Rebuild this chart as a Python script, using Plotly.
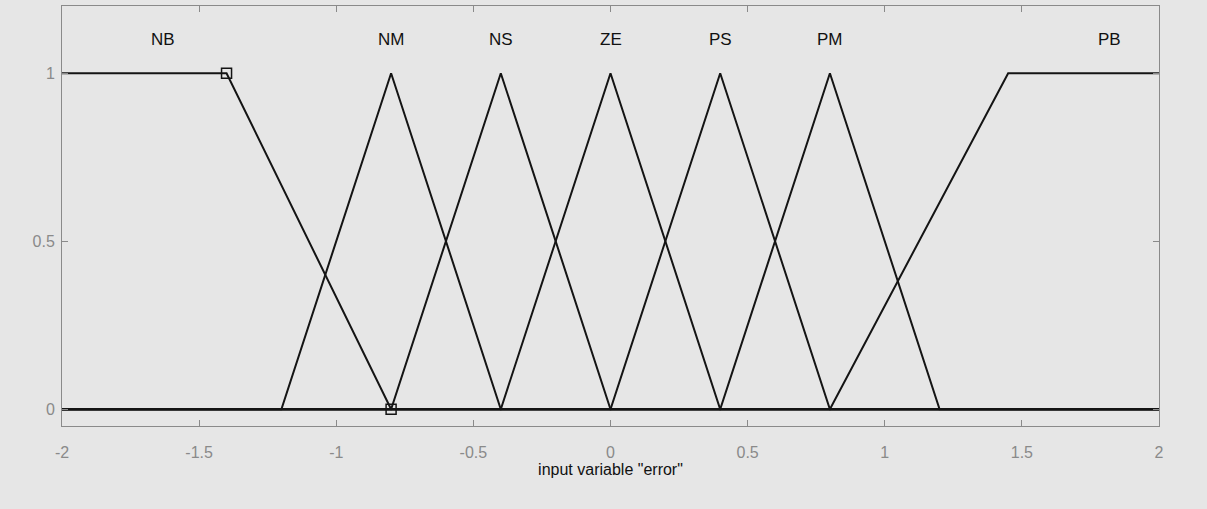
import plotly.graph_objects as go

# Membership functions of input variable "error" (range -2..2)
mf_names = ["NB", "NM", "NS", "ZE", "PS", "PM", "PB"]
mf_x = [
    [-2.0, -1.4, -0.8],
    [-1.2, -0.8, -0.4],
    [-0.8, -0.4, 0.0],
    [-0.4, 0.0, 0.4],
    [0.0, 0.4, 0.8],
    [0.4, 0.8, 1.2],
    [0.8, 1.45, 2.0],
]
mf_y = [
    [1, 1, 0],
    [0, 1, 0],
    [0, 1, 0],
    [0, 1, 0],
    [0, 1, 0],
    [0, 1, 0],
    [0, 1, 1],
]
label_x = [-1.63, -0.8, -0.4, 0.0, 0.4, 0.8, 1.82]
label_y = 1.1
selected_x = [-1.4, -0.8]
selected_y = [1, 0]
x_range = [-2, 2]
y_range = [-0.05, 1.2]
x_ticks = [-2, -1.5, -1, -0.5, 0, 0.5, 1, 1.5, 2]
y_ticks = [0, 0.5, 1]

FONT = "Liberation Sans, Arial"

fig = go.Figure()
for name, xs, ys in zip(mf_names, mf_x, mf_y):
    px = list(xs)
    py = list(ys)
    if px[0] > x_range[0]:
        px = [x_range[0]] + px
        py = [0] + py
    if px[-1] < x_range[1]:
        px = px + [x_range[1]]
        py = py + [0]
    fig.add_trace(go.Scatter(x=px, y=py, mode="lines",
                             line=dict(color="#141414", width=2),
                             showlegend=False, hoverinfo="skip"))

fig.add_trace(go.Scatter(x=selected_x, y=selected_y, mode="markers",
                         marker=dict(symbol="square-open", size=10,
                                     color="#141414", line=dict(width=1.5)),
                         showlegend=False, hoverinfo="skip"))

for name, lx in zip(mf_names, label_x):
    fig.add_annotation(x=lx, y=label_y, text=name, showarrow=False,
                       font=dict(size=17, color="#111111", family=FONT))

axis_common = dict(showgrid=False, zeroline=False, showline=True,
                   linecolor="#8a8a8a", linewidth=1, mirror="ticks",
                   ticks="inside", ticklen=6, tickcolor="#8a8a8a",
                   tickfont=dict(size=16, color="#8a8a8a", family=FONT))

fig.update_layout(
    width=1207, height=509,
    margin=dict(l=62, r=48, t=6, b=83),
    paper_bgcolor="#e6e6e6", plot_bgcolor="#e6e6e6",
    xaxis=dict(range=x_range, tickvals=x_ticks,
               ticktext=[f"{v:g}" for v in x_ticks],
               ticklabelstandoff=12,
               title=dict(text='input variable "error"',
                          font=dict(size=16, color="#111111", family=FONT),
                          standoff=2),
               **axis_common),
    yaxis=dict(range=y_range, tickvals=y_ticks,
               ticktext=[f"{v:g}" for v in y_ticks],
               ticklabelstandoff=3,
               **axis_common),
)

fig.write_html("out.html")
